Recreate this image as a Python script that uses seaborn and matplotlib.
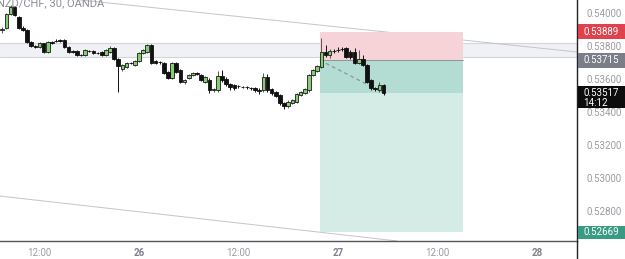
import numpy as np
import pandas as pd
import matplotlib
matplotlib.use("Agg")
import matplotlib.pyplot as plt
import matplotlib.transforms as mtransforms
from matplotlib.patches import Rectangle
from matplotlib.lines import Line2D
import seaborn as sns

# ---------------- data ----------------
title = "NZD/CHF, 30, OANDA"
start_time = "2023-01-25 07:30"
n_candles = 93

opens = [0.53899, 0.53911, 0.53996, 0.54038, 0.53978, 0.53911, 0.53899, 0.53826, 0.53801, 0.53795,
         0.53820, 0.53765, 0.53826, 0.53832, 0.53838, 0.53838, 0.53795, 0.53771, 0.53771, 0.53747,
         0.53747, 0.53771, 0.53771, 0.53759, 0.53765, 0.53747, 0.53765, 0.53789, 0.53722, 0.53661,
         0.53674, 0.53698, 0.53686, 0.53710, 0.53759, 0.53765, 0.53807, 0.53710, 0.53704, 0.53698,
         0.53643, 0.53607, 0.53698, 0.53655, 0.53582, 0.53607, 0.53625, 0.53637, 0.53625, 0.53582,
         0.53595, 0.53534, 0.53534, 0.53619, 0.53601, 0.53570, 0.53564, 0.53558, 0.53552, 0.53552,
         0.53546, 0.53546, 0.53534, 0.53534, 0.53613, 0.53540, 0.53522, 0.53503, 0.53455, 0.53436,
         0.53455, 0.53461, 0.53503, 0.53515, 0.53534, 0.53625, 0.53649, 0.53674, 0.53765, 0.53747,
         0.53771, 0.53777, 0.53783, 0.53789, 0.53765, 0.53765, 0.53698, 0.53722, 0.53686, 0.53595,
         0.53546, 0.53534, 0.53564]
closes = [0.53905, 0.53996, 0.54038, 0.53990, 0.53911, 0.53899, 0.53826, 0.53801, 0.53795, 0.53820,
          0.53765, 0.53826, 0.53820, 0.53829, 0.53832, 0.53795, 0.53765, 0.53765, 0.53747, 0.53744,
          0.53777, 0.53768, 0.53759, 0.53756, 0.53747, 0.53777, 0.53789, 0.53722, 0.53680, 0.53686,
          0.53698, 0.53695, 0.53710, 0.53759, 0.53777, 0.53807, 0.53698, 0.53698, 0.53701, 0.53637,
          0.53607, 0.53698, 0.53643, 0.53582, 0.53595, 0.53625, 0.53637, 0.53634, 0.53595, 0.53613,
          0.53534, 0.53540, 0.53619, 0.53595, 0.53570, 0.53552, 0.53546, 0.53555, 0.53549, 0.53549,
          0.53543, 0.53534, 0.53528, 0.53613, 0.53534, 0.53515, 0.53497, 0.53455, 0.53436, 0.53461,
          0.53473, 0.53509, 0.53522, 0.53540, 0.53625, 0.53655, 0.53680, 0.53765, 0.53747, 0.53771,
          0.53768, 0.53774, 0.53780, 0.53734, 0.53734, 0.53698, 0.53722, 0.53686, 0.53582, 0.53546,
          0.53540, 0.53564, 0.53517]
highs = [0.53917, 0.54002, 0.54051, 0.54045, 0.53984, 0.53923, 0.53905, 0.53832, 0.53807, 0.53826,
         0.53820, 0.53832, 0.53832, 0.53844, 0.53844, 0.53844, 0.53801, 0.53777, 0.53777, 0.53753,
         0.53783, 0.53777, 0.53777, 0.53765, 0.53771, 0.53783, 0.53801, 0.53795, 0.53728, 0.53692,
         0.53704, 0.53704, 0.53716, 0.53765, 0.53783, 0.53814, 0.53814, 0.53716, 0.53710, 0.53704,
         0.53649, 0.53704, 0.53704, 0.53661, 0.53601, 0.53631, 0.53643, 0.53643, 0.53631, 0.53619,
         0.53607, 0.53546, 0.53649, 0.53655, 0.53613, 0.53576, 0.53570, 0.53564, 0.53558, 0.53558,
         0.53552, 0.53552, 0.53546, 0.53637, 0.53631, 0.53546, 0.53528, 0.53509, 0.53461, 0.53473,
         0.53479, 0.53515, 0.53528, 0.53546, 0.53631, 0.53661, 0.53686, 0.53850, 0.53807, 0.53783,
         0.53783, 0.53795, 0.53795, 0.53795, 0.53777, 0.53789, 0.53777, 0.53747, 0.53692, 0.53601,
         0.53552, 0.53582, 0.53570]
lows = [0.53880, 0.53905, 0.53990, 0.53984, 0.53905, 0.53893, 0.53820, 0.53795, 0.53789, 0.53789,
        0.53759, 0.53759, 0.53814, 0.53826, 0.53826, 0.53789, 0.53759, 0.53759, 0.53741, 0.53741,
        0.53741, 0.53765, 0.53753, 0.53753, 0.53741, 0.53741, 0.53759, 0.53716, 0.53522, 0.53649,
        0.53668, 0.53692, 0.53680, 0.53704, 0.53753, 0.53759, 0.53692, 0.53692, 0.53692, 0.53631,
        0.53601, 0.53601, 0.53637, 0.53576, 0.53570, 0.53601, 0.53619, 0.53625, 0.53589, 0.53576,
        0.53515, 0.53522, 0.53522, 0.53582, 0.53558, 0.53534, 0.53534, 0.53546, 0.53546, 0.53540,
        0.53534, 0.53522, 0.53509, 0.53522, 0.53522, 0.53503, 0.53491, 0.53443, 0.53418, 0.53424,
        0.53449, 0.53455, 0.53497, 0.53509, 0.53522, 0.53619, 0.53643, 0.53668, 0.53734, 0.53728,
        0.53759, 0.53765, 0.53771, 0.53728, 0.53722, 0.53692, 0.53692, 0.53680, 0.53576, 0.53534,
        0.53528, 0.53522, 0.53503]

y_ticks = [0.528, 0.530, 0.532, 0.534, 0.536, 0.538, 0.540]
x_tick_hours = [-12, 0, 12, 24, 36, 48]
x_tick_labels = ["12:00", "26", "12:00", "27", "12:00", "28"]
x_tick_bold = [False, True, False, True, False, True]

# drawings (hours relative to 26 00:00, prices)
band_low, band_high = 0.53736, 0.53818
trend_top = ([-7.1, 52.8], [0.54081, 0.53765])
trend_bot = ([-16.8, 31.1], [0.52889, 0.52616])
tool_start, tool_end = 21.8, 39.1
stop_price, entry_price, target_price = 0.53889, 0.53715, 0.52669
last_price = 0.53517
countdown = "14:12"

# ---------------- figure ----------------
sns.set_theme(style="white")
plt.rcParams['font.family'] = ['Roboto', 'DejaVu Sans']

W, H = 625, 259
fig = plt.figure(figsize=(W / 100, H / 100), dpi=100)
ax_right, ax_bottom = 577, 241
ax = fig.add_axes([0, (H - ax_bottom) / H, ax_right / W, ax_bottom / H])
ax.set_facecolor("white")

times = pd.date_range(start_time, periods=n_candles, freq="30min")
ref = pd.Timestamp("2023-01-26 00:00")
hrs = np.asarray((times - ref) / pd.Timedelta(hours=1), dtype=float)
O = np.array(opens); C = np.array(closes); Hh = np.array(highs); L = np.array(lows)

ax.set_xlim(-16.767, 52.835)
ax.set_ylim(0.526156, 0.540809)

# band
ax.axhspan(band_low, band_high, facecolor="#f0f1f4", edgecolor="none", zorder=0)
ax.axhline(band_low, color="#d3d5dc", lw=0.8, zorder=0.5)
ax.axhline(band_high, color="#d3d5dc", lw=0.8, zorder=0.5)

# trend lines
ax.plot(*trend_top, color="#c3c5cc", lw=0.7, zorder=0.6)
ax.plot(*trend_bot, color="#c3c5cc", lw=0.7, zorder=0.6)

# position tool
ax.add_patch(Rectangle((tool_start, entry_price), tool_end - tool_start, stop_price - entry_price,
                       facecolor="#f6d3d6", edgecolor="none", zorder=0.7))
ax.add_patch(Rectangle((tool_start, last_price), tool_end - tool_start, entry_price - last_price,
                       facecolor="#b3dcd3", edgecolor="none", zorder=0.7))
ax.add_patch(Rectangle((tool_start, target_price), tool_end - tool_start, last_price - target_price,
                       facecolor="#d5ebe6", edgecolor="none", zorder=0.7))
ax.plot([tool_start, tool_end], [entry_price, entry_price], color="#8f939c", lw=0.7, zorder=0.8)
ax.plot([tool_start, hrs[-1]], [entry_price, last_price], color="#8f939c", lw=0.9,
        ls=(0, (3, 2.5)), zorder=0.9)

# candles
up = C >= O
wick_col = np.where(up, "#555555", "#111111")
ax.vlines(hrs, L, Hh, colors=list(wick_col), lw=0.7, zorder=2)
body_bot = np.minimum(O, C)
body_h = np.maximum(np.abs(C - O), 0.000025)
ax.bar(hrs[up], body_h[up], bottom=body_bot[up], width=0.44, color="#86cc74",
       edgecolor="#1a1a1a", linewidth=0.6, zorder=3)
ax.bar(hrs[~up], body_h[~up], bottom=body_bot[~up], width=0.44, color="#111111",
       edgecolor="#111111", linewidth=0.6, zorder=3)

# axes styling
for s in ["left", "top"]:
    ax.spines[s].set_visible(False)
ax.spines["right"].set_color("#222222")
ax.spines["right"].set_linewidth(1.0)
ax.spines["bottom"].set_color("#555555")
ax.spines["bottom"].set_linewidth(1.0)
ax.yaxis.tick_right()
ax.set_yticks(y_ticks)
ax.set_yticklabels([f"{v:.5f}" for v in y_ticks])
ax.tick_params(axis="y", length=0, pad=7, labelsize=7, labelcolor="#9a9ca3")
ax.set_xticks(x_tick_hours)
ax.set_xticklabels(x_tick_labels)
ax.tick_params(axis="x", length=0, pad=5, labelsize=7, labelcolor="#9a9ca3")
for lbl, b in zip(ax.get_xticklabels(), x_tick_bold):
    if b:
        lbl.set_fontweight("bold")
        lbl.set_color("#7d8089")

# vertical axis line continuing through time scale
fig.add_artist(Line2D([ax_right / W, ax_right / W], [0, (H - ax_bottom) / H],
                      transform=fig.transFigure, color="#222222", lw=1.0))

# price labels on the scale
px = 0.0000608  # price per pixel
btr = mtransforms.blended_transform_factory(fig.transFigure, ax.transData)
x0 = ax_right / W + 0.5 / W
bw = 1 - x0

def price_box(price, color, above=7.5, below=7.5, text=None, sub=None):
    fig.add_artist(Rectangle((x0, price - below * px), bw, (above + below) * px,
                             transform=btr, facecolor=color, edgecolor="none", zorder=5))
    fig.text(x0 + 5.5 / W, price, f"{price:.5f}" if text is None else text, transform=btr,
             ha="left", va="center", color="white", fontsize=7, zorder=6)
    if sub:
        fig.text(x0 + 5.5 / W, price - 10 * px, sub, transform=btr,
                 ha="left", va="center", color="white", fontsize=7, zorder=6)

price_box(stop_price, "#e0424d")
price_box(entry_price, "#7b7e88")
price_box(last_price, "#0d0d0d", above=6.5, below=15.5, sub=countdown)
price_box(target_price, "#3a9b84", above=6.5, below=6.5)

# title (partly cut at the top edge, as in the reference)
fig.text(-3 / W, 1 - 6 / H, title, ha="left", va="baseline", color="#8a8d95", fontsize=8)

fig.savefig("out.png", dpi=100)
